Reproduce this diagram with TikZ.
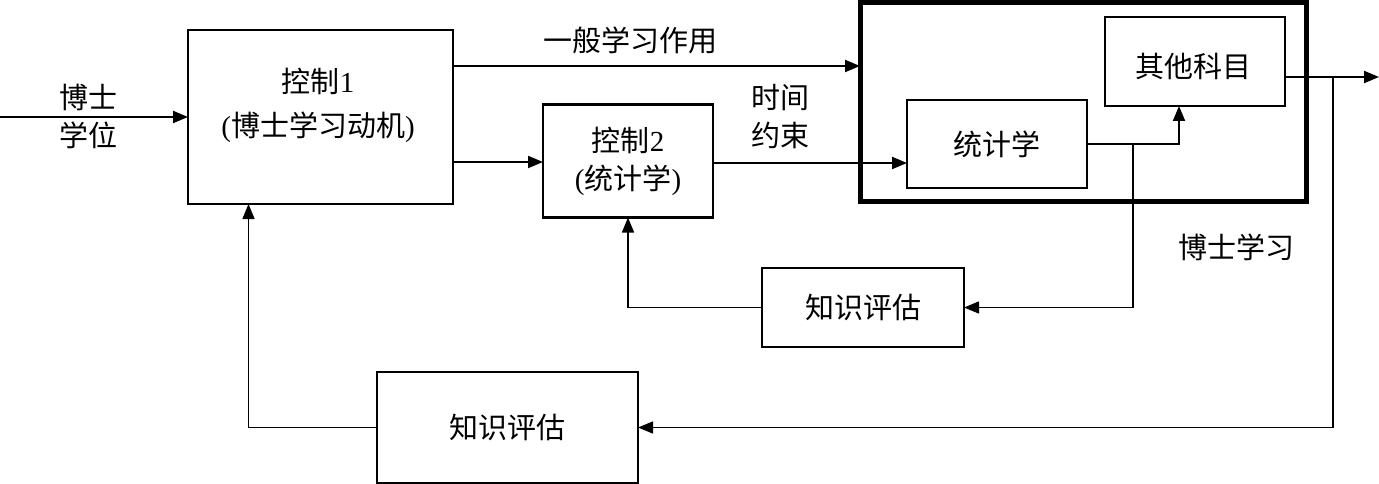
\documentclass[tikz,border=0pt]{standalone}
\usepackage{fontspec}
\setmainfont{Liberation Serif}
\newfontfamily\cjk{Noto Sans CJK SC}
\usetikzlibrary{arrows.meta}
\begin{document}
\begin{tikzpicture}[x=1pt,y=-1pt,
  every node/.style={inner sep=0pt,outer sep=0pt},
  txt/.style={font=\fontsize{29}{40}\selectfont,align=center},
  box/.style={draw,line width=2.2pt},
  bigbox/.style={draw,line width=5pt},
  arr/.style={line width=2pt,-{Triangle[length=15pt,width=12pt]}},
  fb/.style={line width=1.5pt},
  fbarr/.style={line width=1.5pt,-{Triangle[length=15pt,width=12pt]}}]
\useasboundingbox (0,0) rectangle (1379,484);
% boxes
\node[box,minimum width=265pt,minimum height=174pt] (c1) at (320.5,117) {};
\node[txt] (c1t) at (318,105) {{\cjk 控制}1\\[4pt]({\cjk 博士学习动机})};
\node[box,minimum width=170pt,minimum height=113pt,txt] (c2) at (628,161) {{\cjk 控制}2\\[-2pt]({\cjk 统计学})};
\node[bigbox,minimum width=446pt,minimum height=198pt] (big) at (1083,102) {};
\node[box,minimum width=180pt,minimum height=88pt,txt] (tj) at (997,144) {\cjk 统计学};
\node[box,minimum width=180pt,minimum height=89pt] (qt) at (1195,61.5) {};
\node[txt] (qtt) at (1193,66) {\cjk 其他科目};
\node[box,minimum width=202pt,minimum height=79pt,txt] (k1) at (863,307.5) {\cjk 知识评估};
\node[box,minimum width=261pt,minimum height=111pt,txt] (k2) at (507.5,427.5) {\cjk 知识评估};
% labels
\node[txt] (lin) at (88,116) {\cjk 博士\\[-2pt]\cjk 学位};
\node[txt] (lgen) at (630,40) {\cjk 一般学习作用};
\node[txt] (ltime) at (780,117) {\cjk 时间\\[-2pt]\cjk 约束};
\node[txt] (lphd) at (1236,247) {\cjk 博士学习};
% coordinates
\coordinate (in) at (0,117);
\coordinate (j1) at (1133,145);
\coordinate (o1) at (1285,77);
\coordinate (j2) at (1333,77);
\coordinate (out) at (1379,77);
% connectors
\draw[arr] (in) -- (c1.west);
\draw[arr] (c1.east |- 0,66) -- (big.west |- 0,66);
\draw[arr] (c1.east |- 0,162) -- (c2.west |- 0,162);
\draw[arr] (c2.east |- 0,163) -- (tj.west |- 0,163);
\draw[arr] (tj.east) -| ([xshift=-16pt]qt.south);
\draw[arr] (o1) -- (out);
\draw[fbarr] (j1) |- (k1.east);
\draw[fbarr] (k1.west) -| (c2.south);
\draw[fbarr] (j2) |- (k2.east);
\draw[fbarr] (k2.west) -| ([xshift=-72pt]c1.south);
\end{tikzpicture}
\end{document}
